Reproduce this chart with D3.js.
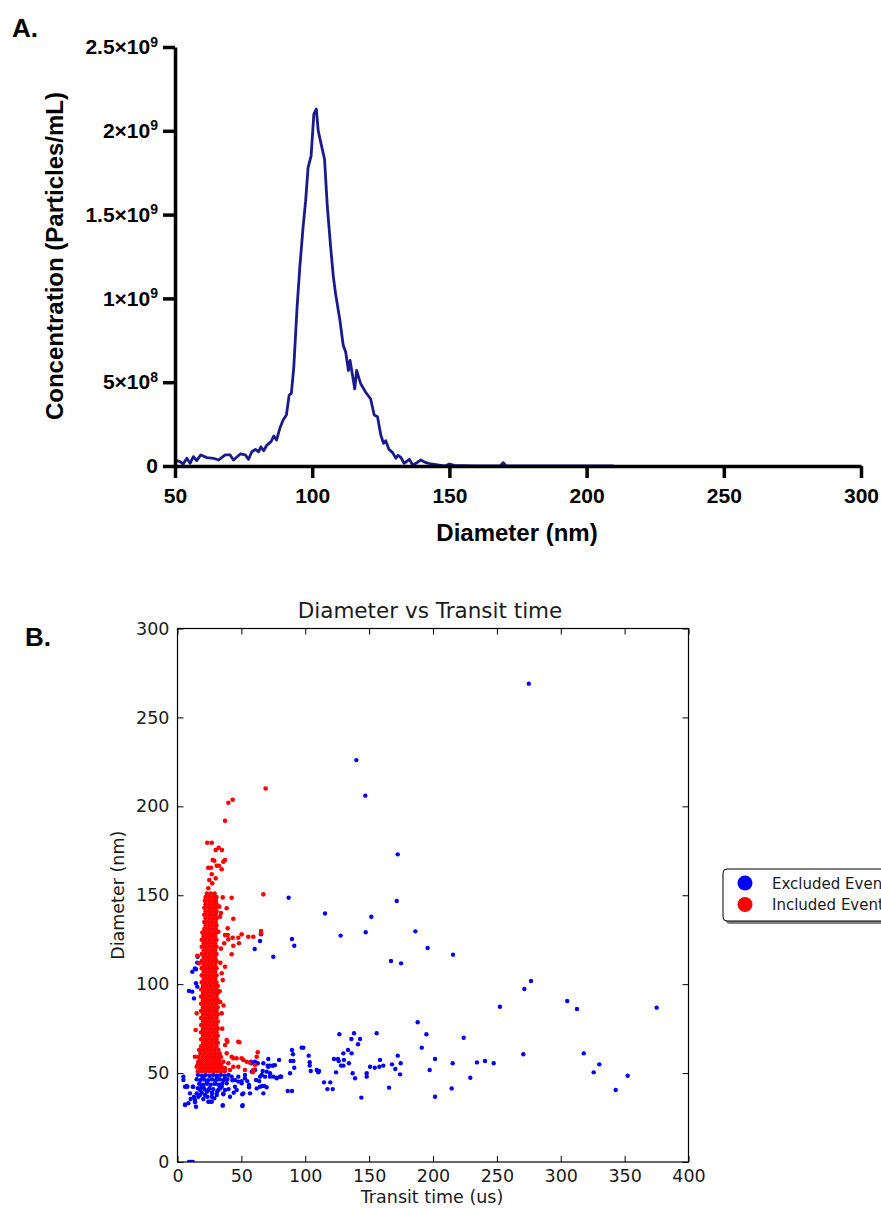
<!DOCTYPE html>
<html>
<head>
<meta charset="utf-8">
<script src="https://cdn.jsdelivr.net/npm/d3@7"></script>
<style>
  body { margin: 0; background: #fff; }
  svg { display: block; }
</style>
</head>
<body>
<div id="chart"></div>
<script>
// ---- panel A : size distribution ----
const diameterNm = [50, 51.8, 53, 54.3, 55.5, 56.7, 57.9, 59.4, 61.6, 64, 65.9, 68.3, 70.1, 71.3, 73.8, 75.6, 76.8, 78, 79.3, 80.5,
  81.3, 82.3, 83.5, 85, 86, 87, 88.2, 89.4, 90.6, 91.6, 92.4, 93.3, 94.5, 95.5, 96.7, 97.6, 98.5, 99.6, 100.6, 101.5,
  102.2, 103, 104.5, 105.5, 106.7, 107.7, 108.5, 110.1, 111.3, 112.2, 113.2, 113.8, 114.6, 115.5, 116.2, 117.1, 117.7, 119.5, 121.3, 122.6,
  123.8, 125, 126, 126.8, 128, 129.3, 130.5, 131.3, 132.3, 133.5, 135.4, 136.6, 137.8, 139.6, 141.5, 143.3, 145.7, 148.2, 150, 151.8,
  155, 160, 165, 168.5, 169.6, 170.7, 180, 190, 200, 210];
const concentration = [0.36e8, 0.26e8, 0.12e8, 0.46e8, 0.16e8, 0.56e8, 0.32e8, 0.66e8, 0.50e8, 0.46e8, 0.36e8, 0.66e8, 0.66e8, 0.36e8, 0.72e8, 0.66e8, 0.40e8, 0.85e8, 0.99e8, 0.85e8,
  1.15e8, 0.91e8, 1.25e8, 1.45e8, 1.79e8, 1.55e8, 2.25e8, 2.74e8, 3.04e8, 4.23e8, 4.33e8, 5.92e8, 9.5e8, 11.9e8, 14.3e8, 15.8e8, 17.8e8, 18.5e8, 21.0e8, 21.3e8,
  20.0e8, 19.4e8, 18.3e8, 15.5e8, 13.1e8, 11.3e8, 10.3e8, 8.7e8, 7.2e8, 6.8e8, 5.7e8, 6.3e8, 5.5e8, 4.6e8, 5.7e8, 5.2e8, 4.9e8, 4.4e8, 4.0e8, 3.04e8,
  2.94e8, 1.85e8, 1.35e8, 1.51e8, 0.99e8, 0.80e8, 0.46e8, 0.64e8, 0.52e8, 0.16e8, 0.40e8, 0.06e8, 0.16e8, 0.36e8, 0.20e8, 0.12e8, 0.06e8, 0, 0.12e8, 0.04e8,
  0.02e8, 0, 0, 0, 0.2e8, 0, 0, 0, 0, 0];
const diamTicks = [50, 100, 150, 200, 250, 300];
const concTicks = [0, 5e8, 1e9, 1.5e9, 2e9, 2.5e9];
const concTickMantissa = ["0", "5×10", "1×10", "1.5×10", "2×10", "2.5×10"];
const concTickExp = ["", "8", "9", "9", "9", "9"];

// ---- panel B : diameter vs transit time, [transit time (us), diameter (nm)] ----
const excludedEvents = [
  [275,269],[140,226],[147,206],[172.4,173],[87,148.6],[171.6,146.8],[115.5,139.8],[151.7,137.9],[127.7,127.3],[147.3,129.2],
  [186.2,129.7],[195.8,120.3],[215.7,116.6],[167.1,113],[175,111.7],[89.6,125.4],[91.4,121.6],[65.4,128],[64.6,124.3],[60.4,119.8],[75,115.4],
  [224,69.9],[215.4,55.5],[229.2,47.4],[214.6,41.4],[234.4,56],[240.7,56.8],[247.5,55.5],[252.4,87.3],[270.7,60.6],[271.5,97.3],
  [276.7,101.8],[305.1,90.5],[312.7,86],[318,61.1],[330.2,54.9],[325.8,50.4],[352.4,48.5],[343,40.5],[375.1,86.8],
  [188,78.6],[191.2,64.3],[194.8,71.8],[201.6,57.9],[197.4,51.7],[201.6,36.7],
  [74.5,54.2],[72.4,49.9],[77.6,47.1],[81,48],[79.5,57.4],[86.3,39.9],[89.6,39.9],[88.1,49.9],[91.4,53],[88.6,56.8],[90.7,56.8],
  [90.4,60.6],[89.6,63],[97.2,64.3],[98.5,64.3],[102.7,59.8],[103.5,56.1],[103.5,54.2],[104.3,51.2],[109,51.7],[110.8,51.2],[110.2,50.4],
  [114.7,44.8],[119.6,44.8],[117.3,41],[121.5,41],[124.1,50.4],[126.7,71.8],[122.5,57.9],[125.6,57.9],[126.2,56.8],[128,54.2],[129.8,54.2],
  [130.3,57.4],[129.8,61.1],[133.5,63],[136.3,61.1],[134.2,55.5],[137.1,49.9],[139,47.1],[136.1,69.2],[138.2,72.4],[142.9,69.2],[141.3,66.2],
  [143.9,36.2],[148.1,49.9],[148.1,48],[150.7,53.6],[154.4,53],[155.9,72.4],[158,53.6],[158.5,57.4],[161.1,54.2],[165.6,41.8],[167.9,54.9],
  [170.5,52.3],[172.4,59.8],[174.7,55.5],[174.2,49.3],
  [4.6,48],[4.6,46.1],[5.9,42.3],[5.9,32.4],[8.5,33],[7.7,42.3],[10.3,35.4],[11.9,42.3],[13.7,33.6],[14.5,31.1],[12.9,36.7],[15,38.6],
  [16.3,36.7],[17.6,40.5],[18.9,42.3],[20.2,35.4],[21.5,37.7],[23.3,36.7],[24.1,33.9],[26.8,33.9],[27.2,38.6],[28.8,35.8],[30.7,37.7],
  [35.4,31.7],[50.7,31.5],[35.9,38.1],[37.2,40.5],[33.3,41.4],[46.3,40.5],[50.7,38.1],[45,42.3],[47.6,45.2],[50.2,45.5],[54.6,45.5],
  [52.8,48.9],[56,43.3],[56,42],[57.5,56.4],[62.8,55.5],[60.7,51.7],[61.5,46.1],[64,45.5],[64.6,42.3],[67.2,38.6],[67.9,42.7],[69.8,42],
  [68.5,48],[69.8,50.8],[71.1,57.9],[72.4,54.2],[70.6,54.2],[75,54.2],[77.7,47.4],[80.2,48],[72.4,48],[66.7,51.2],[65.9,48.9],
  [7.2,42.7],[9.8,38.6],[12.4,42.3],[5.9,32],[13.7,34.9],[17.6,37.7],[20.2,42.3],[20.2,47.1],[22.9,45.2],[24.1,40.5],[26.8,36.7],
  [25.4,33.9],[29.4,44.3],[30.7,48],[31.9,40.5],[34.6,42.3],[37.2,47.1],[38.5,44.3],[35.9,38.6],[42.4,48],[45,46.1],[47.6,48],[50.2,44.3],
  [52.8,47.1],[51.5,38.6],[41.1,36.7],[35.4,32],[51,32],[56.8,38.6],[62,41.4],[66.4,42.7],[71.1,53.6],[76.3,54.5],[81,48],[75,48],
  [67.2,55.5],[60.7,56.4],[58.1,55.5],[64.6,48],[58.1,50.8],
  [16,49],[19,48.5],[22,49],[25,48.5],[28,49],[31,48.5],[34,49],[37,48.5],[40,49],
  [15,46.5],[18,46],[21,46.5],[24,46],[27,46.5],[30,46],[33,46.5],[36,46],[39,46.5],[43,46],
  [17,44],[20,43.5],[23,44],[26,43.5],[29,44],[32,43.5],[35,44],[16,41.5],[21,41],[25,41.5],[28,41],[33,41.5],[40,41],
  [19,39],[23,39.5],[27,39],[31,39.5],[44,39],
  [11.6,107],[13.7,108.9],[14.5,100.5],[15.5,98.6],[9,96.2],[11.6,95.8],[12.9,92],[15.8,115.4],[15.5,112.1],[14.5,108.4],
  [9,0],[10,0],[11,0],[12,0]
];
const includedEvents = [
  [69,210],[43.2,203.7],[39.8,202],[37.2,191.9],[23.3,179.5],[26.8,179.5],[29.9,175.4],[32.2,176.7],[34.8,175.4],[37.2,169.8],[35.9,168.9],
  [27.6,169.8],[28.8,169.4],[24.1,165.5],[26.2,165.5],[30.7,166.6],[32.5,166.6],[34.6,164.6],[26.8,161.8],[29.9,159.5],[24.9,158.6],
  [27.2,156.7],[24.1,153.9],[67.2,150.5],[42.4,148.6],[35.4,148.8],[32.7,143.6],[38.5,142.7],[43.7,136.8],[33.3,137.9],[39.3,131.4],
  [37.2,127.6],[65.4,129.9],[65.4,128.6],[50.2,128],[55.4,126.7],[59.3,126.7],[47.6,126.1],[48.1,123],[43.7,121.6],[42.4,116.8],
  [43.2,126.1],[32,129.5],[39.3,127.6],[36.6,123],[39.8,125.2],
  [34.6,83.6],[35.4,102.3],[34.6,106.1],[37.2,109.8],[38.5,68.6],[37.2,65.8],[47.6,67.6],[38.5,61.1],[42.4,59.2],[43.7,58.3],[46.3,58.3],
  [50.2,58.3],[51.5,57.4],[54.2,56.4],[56.8,55.8],[60.7,54.5],[59.3,51.7],[52.8,51.7],[47.6,53.6],[43.7,53.6],[39.8,55.5],[37.2,52.7],
  [35.9,56.4],[41.1,51.7],[62,59.2],[48.4,67.3],[62.8,61.7],[39,67.6],[58.9,50.5],
  [33.5,90],[34,120],[33,96],[35,75],[34,140],[33.5,112],[36,88],
  [15.5,116],[16.8,111.7],[15,83.6],[14.2,74.2],[13.7,59.2],[16.3,56.4],[15,53.6],
  [16,51],[19,51],[22,51],[25,51],[28,51],[31,51],[34,51],[37,51],
  [17.5,53],[20.5,53],[23.5,53],[26.5,53],[29.5,53],[32.5,53],[35.5,53],
  [16,55],[19,55],[22,55],[25,55],[28,55],[31,55],[34,55],
  [17.5,57],[20.5,57],[23.5,57],[26.5,57],[29.5,57],[32.5,57],
  [16.5,59],[19.5,59],[22.5,59],[25.5,59],[28.5,59],[31.5,59],[34,59],
  [18,61],[21,61],[24,61],[27,61],[30,61],[33,61],
  [17,63],[20,63],[23,63],[26,63],[29,63],[32,63],
  [18.5,65],[21.5,65],[24.5,65],[27.5,65],[30.5,65],
  [20,67],[23,67],[26,67],[29,67],[31.5,67],
  [18.5,69],[21.5,69],[24.5,69],[27.5,69],[30.5,69],
  [20,71],[23,71],[26,71],[29,71],[31.5,71],
  [18.5,73],[21.5,73],[24.5,73],[27.5,73],[30.5,73],
  [20,75],[23,75],[26,75],[29,75],[31.5,75],
  [18.5,77],[21.5,77],[24.5,77],[27.5,77],[30.5,77],
  [20,79],[23,79],[26,79],[29,79],[31.5,79],
  [18.5,81],[21.5,81],[24.5,81],[27.5,81],[30.5,81],
  [20,83],[23,83],[26,83],[29,83],[31.5,83],
  [18.5,85],[21.5,85],[24.5,85],[27.5,85],[30.5,85],
  [20,87],[23,87],[26,87],[29,87],[31.5,87],
  [18.5,89],[21.5,89],[24.5,89],[27.5,89],[30.5,89],
  [20,91],[23,91],[26,91],[29,91],[31.5,91],
  [18.5,93],[21.5,93],[24.5,93],[27.5,93],[30.5,93],
  [20,95],[23,95],[26,95],[29,95],[31.5,95],
  [18.5,97],[21.5,97],[24.5,97],[27.5,97],[30.5,97],
  [20,99],[23,99],[26,99],[29,99],[31.5,99],
  [19,101],[22,101],[25,101],[28,101],[30.5,101],
  [20.5,103],[23.5,103],[26.5,103],[29.5,103],
  [19,105],[22,105],[25,105],[28,105],[30.5,105],
  [20.5,107],[23.5,107],[26.5,107],[29.5,107],
  [19,109],[22,109],[25,109],[28,109],[30.5,109],
  [20.5,111],[23.5,111],[26.5,111],[29.5,111],
  [19,113],[22,113],[25,113],[28,113],[30.5,113],
  [20.5,115],[23.5,115],[26.5,115],[29.5,115],
  [19,117],[22,117],[25,117],[28,117],[30.5,117],
  [20.5,119],[23.5,119],[26.5,119],[29.5,119],
  [19,121],[22,121],[25,121],[28,121],[30.5,121],
  [20.5,123],[23.5,123],[26.5,123],[29.5,123],
  [19,125],[22,125],[25,125],[28,125],[30.5,125],
  [20.5,127],[23.5,127],[26.5,127],[29.5,127],
  [19.5,129],[22,129],[25,129],[28,129],[30.5,129],
  [21,131],[24,131],[27,131],[30,131],
  [22,133],[25,133],[28,133],[30.5,133],
  [21,135],[24,135],[27,135],[30,135],
  [22,137],[25,137],[28,137],[30.5,137],
  [21,139],[24,139],[27,139],[30,139],
  [22,141],[25,141],[28,141],[30.5,141],
  [21,143],[24,143],[27,143],[30,143],
  [22,145],[25,145],[28,145],[30.5,145],
  [21.5,147],[24,147],[27,147],[30,147],
  [22,149],[25,149],[28,149],[30.5,149],
  [23,151],[26,151],[29,151]
];
const legendLabels = ["Excluded Events", "Included Events"];
const eventColors = ["#0000ff", "#ff0000"];
const transitTicks = [0, 50, 100, 150, 200, 250, 300, 350, 400];
const diamTicksB = [0, 50, 100, 150, 200, 250, 300];

const W = 881, H = 1209;
const svg = d3.select("#chart").append("svg")
  .attr("width", W).attr("height", H)
  .attr("viewBox", `0 0 ${W} ${H}`);
svg.append("rect").attr("width", W).attr("height", H).attr("fill", "#fff");

// ================= PANEL A =================
const boldFont = "'Liberation Sans', Arial, Helvetica, sans-serif";
const xA = d3.scaleLinear().domain([50, 300]).range([175, 861]);
const yA = d3.scaleLinear().domain([0, 2.5e9]).range([466, 47]);

svg.append("text").attr("x", 12).attr("y", 37)
  .attr("font-family", boldFont).attr("font-weight", "bold").attr("font-size", 26)
  .text("A.");

const gA = svg.append("g");

gA.append("path")
  .datum(diameterNm.map((d, i) => [d, concentration[i]]))
  .attr("fill", "none")
  .attr("stroke", "#1a1a8f")
  .attr("stroke-width", 2.8)
  .attr("stroke-linejoin", "round")
  .attr("d", d3.line().x(d => xA(d[0])).y(d => yA(d[1])));

const axA_y = gA.append("g")
  .attr("transform", "translate(175,0)")
  .call(d3.axisLeft(yA).tickValues(concTicks).tickSize(12).tickSizeOuter(0).tickPadding(5));
axA_y.selectAll(".tick text").each(function(d, i) {
  const t = d3.select(this).text(concTickMantissa[i]);
  if (concTickExp[i]) t.append("tspan").attr("dy", "-0.55em").attr("font-size", 14).text(concTickExp[i]);
});

const axA_x = gA.append("g")
  .attr("transform", "translate(0,466)")
  .call(d3.axisBottom(xA).tickValues(diamTicks).tickSize(12).tickSizeOuter(0).tickPadding(10));

[axA_x, axA_y].forEach(ax => {
  ax.select(".domain").attr("stroke", "#000").attr("stroke-width", 3.5);
  ax.selectAll(".tick line").attr("stroke", "#000").attr("stroke-width", 3.5);
  ax.selectAll(".tick text")
    .attr("font-family", boldFont).attr("font-weight", "bold").attr("font-size", 21).attr("fill", "#000");
});

gA.append("text")
  .attr("transform", "translate(63,256) rotate(-90)")
  .attr("text-anchor", "middle")
  .attr("font-family", boldFont).attr("font-weight", "bold").attr("font-size", 24)
  .text("Concentration (Particles/mL)");

gA.append("text")
  .attr("x", 517).attr("y", 541)
  .attr("text-anchor", "middle")
  .attr("font-family", boldFont).attr("font-weight", "bold").attr("font-size", 24)
  .text("Diameter (nm)");

// ================= PANEL B =================
const mplFont = "'DejaVu Sans', Verdana, sans-serif";
const plotLeft = 177.5, plotRight = 688.5, plotTop = 628.5, plotBottom = 1162;
const xB = d3.scaleLinear().domain([0, 400]).range([plotLeft, plotRight]);
const yB = d3.scaleLinear().domain([0, 300]).range([plotBottom, plotTop]);

svg.append("text").attr("x", 25).attr("y", 646)
  .attr("font-family", boldFont).attr("font-weight", "bold").attr("font-size", 26)
  .text("B.");

const gB = svg.append("g");

svg.append("clipPath").attr("id", "plotClip")
  .append("rect").attr("x", plotLeft).attr("y", plotTop)
  .attr("width", plotRight - plotLeft).attr("height", plotBottom - plotTop);

const dots = gB.append("g").attr("clip-path", "url(#plotClip)");
dots.selectAll("circle.excl")
  .data(excludedEvents)
  .join("circle")
  .attr("class", "excl")
  .attr("cx", d => xB(d[0]))
  .attr("cy", d => yB(d[1]))
  .attr("r", 2.2)
  .attr("fill", eventColors[0]);

dots.selectAll("circle.incl")
  .data(includedEvents)
  .join("circle")
  .attr("class", "incl")
  .attr("cx", d => xB(d[0]))
  .attr("cy", d => yB(d[1]))
  .attr("r", 2.3)
  .attr("fill", eventColors[1]);

// axes, ticks pointing inward on all four sides
const axB = [
  gB.append("g").attr("transform", `translate(0,${plotBottom})`)
    .call(d3.axisBottom(xB).tickValues(transitTicks).tickSizeInner(-6).tickSizeOuter(0).tickPadding(8)),
  gB.append("g").attr("transform", `translate(${plotLeft},0)`)
    .call(d3.axisLeft(yB).tickValues(diamTicksB).tickSizeInner(-6).tickSizeOuter(0).tickPadding(8)),
  gB.append("g").attr("transform", `translate(0,${plotTop})`)
    .call(d3.axisTop(xB).tickValues(transitTicks).tickSizeInner(-6).tickSizeOuter(0).tickFormat("")),
  gB.append("g").attr("transform", `translate(${plotRight},0)`)
    .call(d3.axisRight(yB).tickValues(diamTicksB).tickSizeInner(-6).tickSizeOuter(0).tickFormat(""))
];
axB.forEach(ax => {
  ax.select(".domain").attr("stroke", "none");
  ax.selectAll(".tick line").attr("stroke", "#000").attr("stroke-width", 1);
  ax.selectAll(".tick text")
    .attr("font-family", mplFont).attr("font-size", 17.5).attr("fill", "#1a1a1a");
});

gB.append("rect")
  .attr("x", plotLeft).attr("y", plotTop)
  .attr("width", plotRight - plotLeft).attr("height", plotBottom - plotTop)
  .attr("fill", "none").attr("stroke", "#000").attr("stroke-width", 1.2);

gB.append("text")
  .attr("x", 430).attr("y", 618)
  .attr("text-anchor", "middle")
  .attr("font-family", mplFont).attr("font-size", 21.5).attr("fill", "#1a1a1a")
  .text("Diameter vs Transit time");

gB.append("text")
  .attr("x", 432).attr("y", 1203)
  .attr("text-anchor", "middle")
  .attr("font-family", mplFont).attr("font-size", 17.5).attr("fill", "#1a1a1a")
  .text("Transit time (us)");

gB.append("text")
  .attr("transform", `translate(124,${(plotTop + plotBottom) / 2}) rotate(-90)`)
  .attr("text-anchor", "middle")
  .attr("font-family", mplFont).attr("font-size", 17.5).attr("fill", "#1a1a1a")
  .text("Diameter (nm)");

// legend (runs off the right edge like the original)
const legend = svg.append("g").attr("transform", "translate(723,869)");
legend.append("rect")
  .attr("x", 3).attr("y", 3).attr("width", 200).attr("height", 52).attr("rx", 4)
  .attr("fill", "#7f7f7f");
legend.append("rect")
  .attr("x", 0).attr("y", 0).attr("width", 200).attr("height", 52).attr("rx", 4)
  .attr("fill", "#fff").attr("stroke", "#000").attr("stroke-width", 1);
legendLabels.forEach((lab, i) => {
  legend.append("circle").attr("cx", 22).attr("cy", 14 + i * 21.5).attr("r", 7.5).attr("fill", eventColors[i]);
  legend.append("text").attr("x", 49).attr("y", 19.5 + i * 21.5)
    .attr("font-family", mplFont).attr("font-size", 15).attr("fill", "#1a1a1a")
    .text(lab);
});
</script>
</body>
</html>
